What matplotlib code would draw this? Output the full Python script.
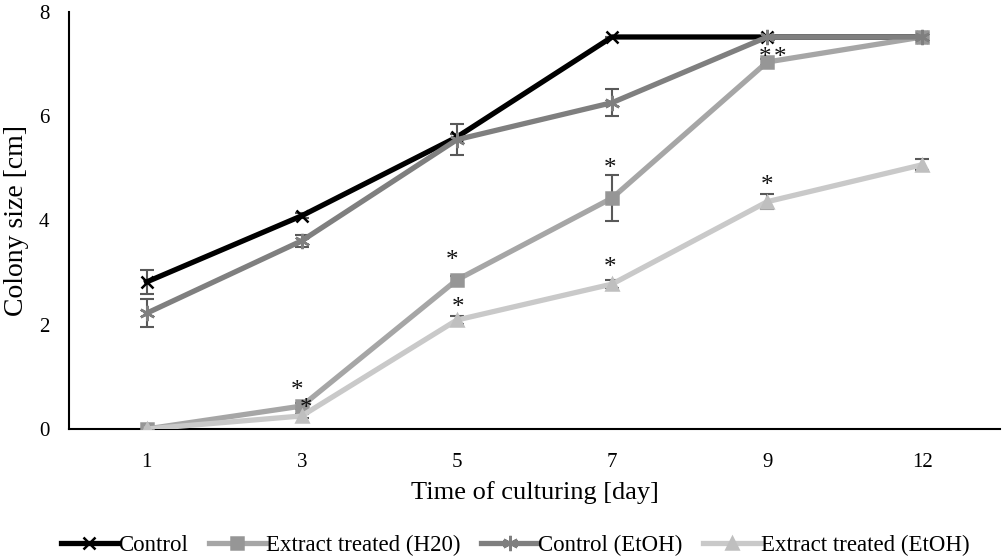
import matplotlib
matplotlib.use("Agg")
import matplotlib.pyplot as plt
import numpy as np

days = ["1", "3", "5", "7", "9", "12"]
control = [2.82, 4.09, 5.60, 7.52, 7.52, 7.52]
control_err = [0.23, 0.05, 0.05, 0.0, 0.0, 0.0]
extract_h2o = [0.0, 0.44, 2.86, 4.43, 7.04, 7.52]
extract_h2o_err = [0.0, 0.05, 0.08, 0.44, 0.05, 0.0]
control_etoh = [2.22, 3.61, 5.55, 6.26, 7.52, 7.52]
control_etoh_err = [0.27, 0.12, 0.30, 0.26, 0.0, 0.0]
extract_etoh = [0.0, 0.25, 2.09, 2.78, 4.36, 5.07]
extract_etoh_err = [0.0, 0.03, 0.08, 0.08, 0.14, 0.10]

# significance marks: (category index, x offset, y value)
stars = [(1, -0.03, 0.73), (1, 0.03, 0.38),
         (2, -0.03, 3.23), (2, 0.01, 2.33),
         (3, -0.01, 4.98), (3, -0.01, 3.08),
         (4, -0.015, 7.12), (4, 0.08, 7.12), (4, 0.0, 4.67)]

plt.rcParams["font.family"] = ["Liberation Serif", "DejaVu Serif"]

fig = plt.figure(figsize=(10.04, 5.59), dpi=100)
ax = fig.add_axes([0.0687, 0.2326, 0.9273, 0.746])

x = np.arange(len(days))
err_color = "#595959"

series = [
    ("Control", control, control_err, "#000000", "x", 9, "#000000"),
    ("Extract treated (H20)", extract_h2o, extract_h2o_err, "#A6A6A6", "s", 8, "#969696"),
    ("Control (EtOH)", control_etoh, control_etoh_err, "#7F7F7F", (6, 2, 0), 11, "#7F7F7F"),
    ("Extract treated (EtOH)", extract_etoh, extract_etoh_err, "#C9C9C9", "^", 8, "#BFBFBF"),
]

handles = []
for label, vals, errs, col, mk, ms, mcol in series:
    ax.errorbar(x, vals, yerr=errs, fmt="none", ecolor=err_color,
                elinewidth=1.5, capsize=5, capthick=1.5, zorder=2)
    h, = ax.plot(x, vals, color=col, lw=3.8, marker=mk, markersize=ms,
                 markerfacecolor=mcol, markeredgecolor=mcol,
                 markeredgewidth=1.8, label=label, zorder=3)
    handles.append(h)

for i, dx, yv in stars:
    ax.text(x[i] + dx, yv, "*", ha="center", va="center", fontsize=18,
            color="#111111", zorder=5)

ax.set_xlim(-0.5, len(days) - 0.5)
ax.set_ylim(0, 8)
ax.set_yticks([0, 2, 4, 6, 8])
ax.set_xticks(x)
ax.set_xticklabels(days)
ax.tick_params(axis="y", length=0, labelsize=15, pad=14)
ax.tick_params(axis="x", length=0, labelsize=15, pad=17)
for sp in ["top", "right"]:
    ax.spines[sp].set_visible(False)
ax.spines["left"].set_linewidth(1.5)
ax.spines["bottom"].set_linewidth(1.5)

ax.set_xlabel("Time of culturing [day]", fontsize=19, labelpad=7)
ax.set_ylabel("Colony size [cm]", fontsize=20, labelpad=7)

fig.legend(handles=handles, loc="center", bbox_to_anchor=(0.513, 0.024),
           ncol=4, frameon=False, fontsize=16.5, handlelength=2.5,
           handletextpad=0.0, columnspacing=0.9)

fig.savefig("out.png", dpi=100)
